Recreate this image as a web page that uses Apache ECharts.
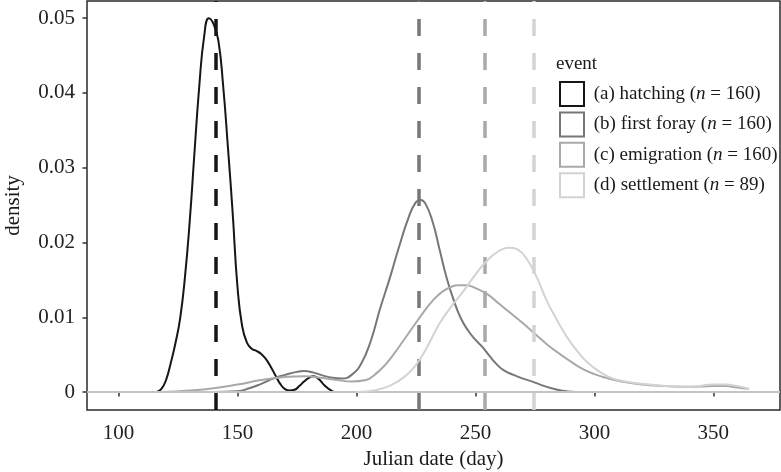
<!DOCTYPE html>
<html>
<head>
<meta charset="utf-8">
<script src="https://cdn.jsdelivr.net/npm/echarts@6/dist/echarts.min.js"></script>
<style>
  html, body { margin: 0; padding: 0; background: #fff; }
  #chart { width: 781px; height: 472px; }
</style>
</head>
<body>
<div id="chart"></div>
<script>
// event names, sample sizes and colours (grey scale)
var events = ['(a) hatching', '(b) first foray', '(c) emigration', '(d) settlement'];
var sampleN = [160, 160, 160, 89];
var colors = ['#161616', '#777777', '#a9a9a9', '#d3d3d3'];

// mean Julian date of each event (dashed lines)
var eventMeans = [141.0, 226.3, 254.1, 274.7];

// density curves, [day, density]
var hatching = [
    [116, 0], [118, 0.0004], [120, 0.0016], [122, 0.0039], [124, 0.0066], [126, 0.01],
    [128, 0.0155], [130, 0.023], [132, 0.0322], [134, 0.041], [136, 0.0475], [138, 0.05],
    [140, 0.0492], [142, 0.047], [144, 0.041], [146, 0.0328], [148, 0.024], [150, 0.0142],
    [152, 0.0088], [154, 0.0066], [156, 0.0058], [158, 0.0055], [160, 0.0051], [162, 0.0044],
    [164, 0.0034], [166, 0.0022], [168, 0.0011], [170, 0.0004], [172, 0.0002], [174, 0.0003],
    [176, 0.0008], [178, 0.0014], [180, 0.0019], [182, 0.0021], [184, 0.0018], [186, 0.0011],
    [188, 0.0005], [190, 0.0001], [191, 0]
];
var firstForay = [
    [140, 0], [150, 0.0001], [155, 0.0005], [160, 0.0011], [165, 0.0018], [170, 0.0023],
    [175, 0.0027], [178, 0.0028], [182, 0.0026], [186, 0.0022], [190, 0.0019], [194, 0.0018],
    [198, 0.0023], [202, 0.0038], [206, 0.0068], [210, 0.0112], [214, 0.0152], [218, 0.0195],
    [222, 0.0234], [225, 0.0254], [227, 0.0257], [229, 0.0252], [232, 0.0228], [235, 0.019],
    [238, 0.0152], [241, 0.0122], [244, 0.0098], [247, 0.0082], [250, 0.007], [253, 0.006],
    [256, 0.0048], [259, 0.0037], [262, 0.0029], [266, 0.0023], [270, 0.0018], [274, 0.0014],
    [278, 0.0009], [282, 0.0005], [286, 0.0002], [292, 0]
];
var emigration = [
    [118, 0], [130, 0.0002], [140, 0.0005], [150, 0.001], [160, 0.0016], [170, 0.002],
    [178, 0.0021], [185, 0.0019], [192, 0.0016], [198, 0.0014], [204, 0.0016], [208, 0.0024],
    [212, 0.0036], [216, 0.0052], [220, 0.007], [224, 0.0088], [228, 0.0106], [232, 0.0122],
    [236, 0.0134], [240, 0.0141], [243, 0.0143], [246, 0.0143], [250, 0.0139], [255, 0.0131],
    [260, 0.0118], [265, 0.0105], [270, 0.0092], [275, 0.0078], [280, 0.0064], [285, 0.0052],
    [290, 0.0041], [295, 0.0031], [300, 0.0024], [305, 0.0019], [310, 0.0015], [320, 0.001],
    [330, 0.0008], [340, 0.0007], [350, 0.0008], [355, 0.0008], [360, 0.0006], [365, 0.0004]
];
var settlement = [
    [200, 0], [205, 0.0001], [210, 0.0004], [215, 0.001], [220, 0.002], [225, 0.0036],
    [230, 0.0062], [235, 0.0092], [240, 0.0115], [245, 0.0135], [250, 0.0157], [255, 0.0176],
    [260, 0.0189], [264, 0.0193], [268, 0.019], [272, 0.0176], [276, 0.0152], [280, 0.0122],
    [284, 0.0098], [288, 0.0076], [292, 0.0058], [296, 0.0043], [300, 0.0032], [305, 0.0022],
    [310, 0.0016], [320, 0.0011], [330, 0.0008], [340, 0.0007], [350, 0.001], [355, 0.001],
    [360, 0.0008], [365, 0.0004]
];

// axis ticks
var xTicks = [100, 150, 200, 250, 300, 350];
var yTicks = [0, 0.01, 0.02, 0.03, 0.04, 0.05];

densityChart();

function densityChart(){
    var chart = echarts.init(document.getElementById('chart'));
    var font = '"Liberation Serif", "DejaVu Serif", serif';
    var curves = [hatching, firstForay, emigration, settlement];

    var series = [{
        // zero baseline
        type: 'line',
        data: [],
        z: 1,
        markLine: {
            silent: true,
            symbol: 'none',
            label: { show: false },
            lineStyle: { color: '#c4c4c4', width: 2, type: 'solid' },
            data: [{ yAxis: 0 }]
        }
    }];

    events.forEach(function(name, i){
        series.push({
            name: name,
            type: 'line',
            data: curves[i],
            showSymbol: false,
            smooth: 0.5,
            color: colors[i],
            lineStyle: { color: colors[i], width: 2 },
            z: 2 + i,
            markLine: {
                silent: true,
                symbol: 'none',
                label: { show: false },
                lineStyle: { color: colors[i], width: 3.5, type: [17, 17] },
                data: [{ xAxis: eventMeans[i] }]
            }
        });
    });

    var option = {
        animation: false,
        backgroundColor: '#fff',
        textStyle: { fontFamily: font },
        title: {
            text: 'event',
            left: 556,
            top: 55,
            padding: 0,
            textStyle: { fontFamily: font, fontSize: 19, fontWeight: 'normal', color: '#1a1a1a' }
        },
        legend: {
            orient: 'vertical',
            left: 559,
            top: 81,
            padding: 0,
            itemWidth: 24,
            itemHeight: 24,
            itemGap: 4.4,
            data: events.map(function(name, i){
                return {
                    name: name,
                    icon: 'rect',
                    itemStyle: { color: '#fff', borderColor: colors[i], borderWidth: 2 }
                };
            }),
            formatter: function(name){
                var i = events.indexOf(name);
                return ' ' + name + ' ({i|n} = ' + sampleN[i] + ')';
            },
            textStyle: {
                fontFamily: font,
                fontSize: 19,
                color: '#1a1a1a',
                rich: {
                    i: { fontFamily: font, fontSize: 19, fontStyle: 'italic', color: '#1a1a1a' }
                }
            }
        },
        grid: {
            left: 87,
            right: 1,
            top: 1,
            bottom: 62,
            outerBoundsMode: 'none',
            show: true,
            borderColor: '#2a2a2a',
            borderWidth: 1.5,
            backgroundColor: 'transparent'
        },
        xAxis: {
            type: 'value',
            min: 86.8,
            max: 378,
            name: 'Julian date (day)',
            nameLocation: 'middle',
            nameGap: 39,
            nameTextStyle: { fontFamily: font, fontSize: 21, color: '#1a1a1a' },
            axisLine: { show: false },
            splitLine: { show: false },
            axisTick: { show: true, length: 4.5, lineStyle: { color: '#333', width: 1.5 }, customValues: xTicks },
            axisLabel: { fontFamily: font, fontSize: 21, color: '#222', margin: 13, customValues: xTicks }
        },
        yAxis: {
            type: 'value',
            min: -0.0024,
            max: 0.0523,
            name: 'density',
            nameLocation: 'middle',
            nameGap: 63,
            nameTextStyle: { fontFamily: font, fontSize: 21, color: '#1a1a1a' },
            axisLine: { show: false },
            splitLine: { show: false },
            axisTick: { show: true, length: 4.5, lineStyle: { color: '#333', width: 1.5 }, customValues: yTicks },
            axisLabel: {
                fontFamily: font, fontSize: 21, color: '#222', margin: 12, customValues: yTicks,
                formatter: function(v){ return String(Math.round(v * 100) / 100); }
            }
        },
        series: series
    };

    chart.setOption(option);
}
</script>
</body>
</html>
